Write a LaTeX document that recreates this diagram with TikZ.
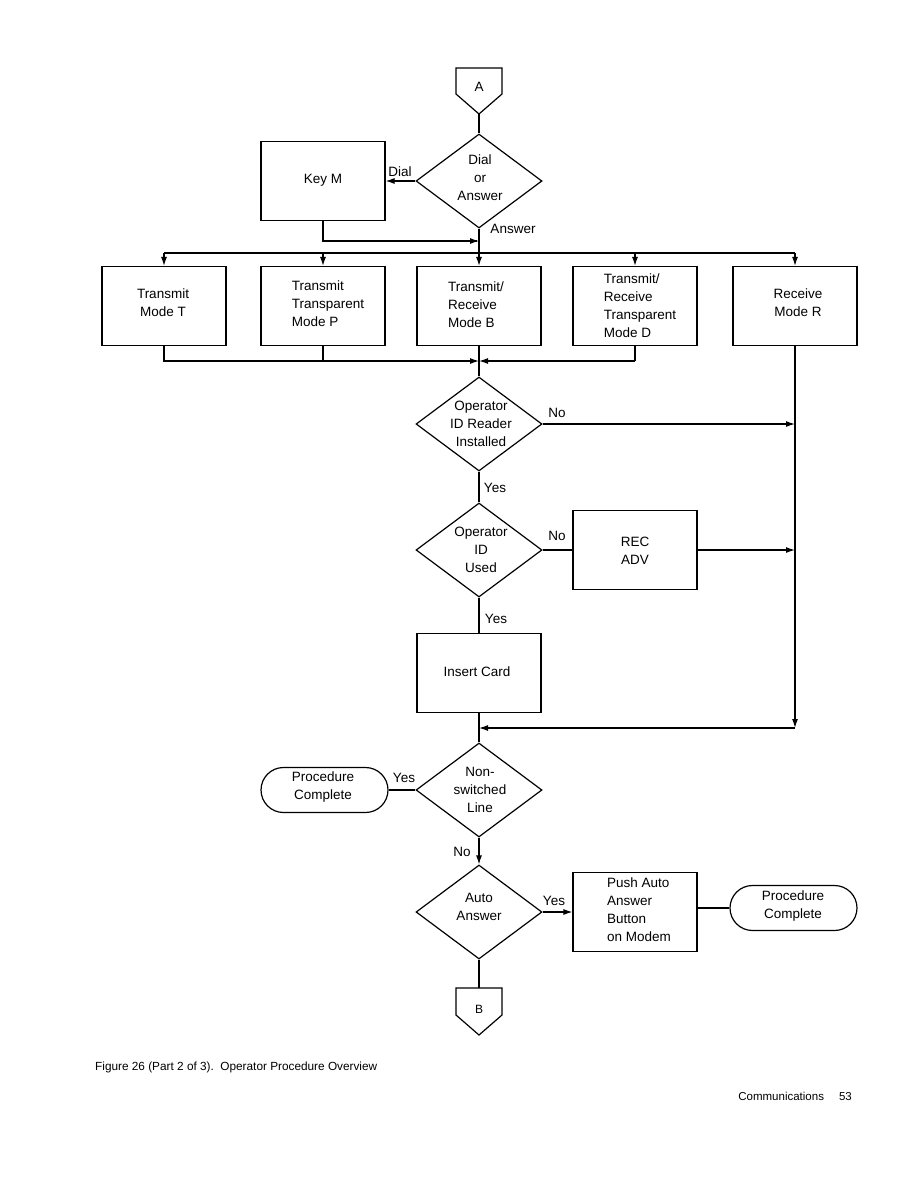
\documentclass[tikz,border=0pt]{standalone}
\usepackage{fontspec}
\setmainfont{Liberation Sans}
\usetikzlibrary{shapes.geometric,shapes.misc,arrows.meta}
\begin{document}
\begin{tikzpicture}[x=1pt,y=-1pt,
  every node/.style={font=\fontsize{13.5}{18}\selectfont},
  line/.style={line width=1.2pt},
  arr/.style={line width=1.2pt,-{Latex[length=9pt,width=6pt]}},
  dia/.style={draw,line width=1.2pt,diamond,minimum width=126pt,minimum height=94pt,inner sep=0pt},
  box/.style={draw,line width=1.2pt,rectangle,minimum width=124pt,minimum height=79pt,inner sep=0pt},
  term/.style={draw,line width=1.2pt,rounded rectangle,minimum width=127pt,minimum height=45pt,inner sep=0pt,align=center},
  txt/.style={align=center,inner sep=0pt},
  ltxt/.style={align=left,inner sep=0pt},
  lab/.style={inner sep=0pt}]
\useasboundingbox (0,0) rectangle (918,1188);
% connector A
\draw[line] (456,68) -- (502,68) -- (502,94) -- (479,114) -- (456,94) -- cycle;
\coordinate (Abot) at (479,114);
\node[lab] (Atxt) at (479,87) {A};
% diamond 1
\node[dia] (d1) at (479,181) {};
\node[txt] (d1t) at (480,178) {Dial\\or\\Answer};
\node[box] (keym) at (323,181) {};
\node[txt] (keymt) at (323,180) {Key M};
\draw[line] (Abot) -- (d1.north);
\draw[arr] (d1.west) -- (keym.east |- d1.west);
\node[lab] (ldial) at (400,172) {Dial};
\coordinate (bus) at (479,253);
\draw[line] (keym.south) -- (323,241) -- (477,241);
\draw[arr] (323,241) -- (479,241);
\node[lab] (lans) at (513,229) {Answer};
% row boxes
\node[box] (bT) at (164,306) {};
\node[txt] (bTt) at (163,303) {Transmit\\Mode T};
\node[box] (bP) at (323,306) {};
\node[ltxt] (bPt) at (328,304) {Transmit\\Transparent\\Mode P};
\node[box] (bB) at (479,306) {};
\node[ltxt] (bBt) at (476,305) {Transmit/\\Receive\\Mode B};
\node[box] (bD) at (635,306) {};
\node[ltxt] (bDt) at (640,306) {Transmit/\\Receive\\Transparent\\Mode D};
\node[box] (bR) at (795,306) {};
\node[txt] (bRt) at (798,303) {Receive\\Mode R};
\draw[line] (d1.south) -- (bus);
\draw[line] (164,253) -- (795,253);
\draw[arr] (164,253) -- (bT.north);
\draw[arr] (323,253) -- (bP.north);
\draw[arr] (bus) -- (bB.north);
\draw[arr] (635,253) -- (bD.north);
\draw[arr] (795,253) -- (bR.north);
% merge
\coordinate (m1) at (479,361);
\draw[line] (bT.south) -- (164,361) -- (475,361);
\draw[arr] (164,361) -- (m1);
\draw[line] (bP.south) -- (323,361);
\draw[line] (bD.south) -- (635,361);
\draw[arr] (635,361) -- (m1);
\draw[line] (bB.south) -- (m1);
% diamond 2
\node[dia] (d2) at (479,424) {};
\node[txt] (d2t) at (481,424) {Operator\\ID Reader\\Installed};
\draw[line] (m1) -- (d2.north);
\coordinate (rl) at (795,424);
\draw[arr] (d2.east) -- (rl);
\node[lab] (lno1) at (557,413) {No};
% diamond 3
\node[dia] (d3) at (479,550) {};
\node[txt] (d3t) at (481,550) {Operator\\ID\\Used};
\draw[line] (d2.south) -- (d3.north);
\node[lab] (lyes1) at (495,488) {Yes};
\node[box] (rec) at (635,550) {};
\node[txt] (rect) at (635,551) {REC\\ADV};
\draw[line] (d3.east) -- (rec.west);
\node[lab] (lno2) at (557,536) {No};
\draw[arr] (rec.east) -- (795,550);
% insert card
\node[box] (ins) at (479,673) {};
\node[txt] (inst) at (477,672) {Insert Card};
\draw[line] (d3.south) -- (ins.north);
\node[lab] (lyes2) at (496,619) {Yes};
% right vertical
\coordinate (rc) at (795,728);
\coordinate (m2) at (479,728);
\draw[arr] (bR.south) -- (rc);
\draw[arr] (rc) -- (m2);
% diamond 4
\node[dia] (d4) at (479,790) {};
\node[txt] (d4t) at (480,790) {Non-\\switched\\Line};
\draw[line] (ins.south) -- (d4.north);
\node[term] (pc1) at (324.5,790) {};
\node[txt] (pc1t) at (323,787) {Procedure\\Complete};
\draw[line] (d4.west) -- (pc1.east);
\node[lab] (lyes3) at (404,778) {Yes};
% diamond 5
\node[dia] (d5) at (479,912) {};
\node[txt] (d5t) at (479,907) {Auto\\Answer};
\draw[arr] (d4.south) -- (d5.north);
\node[lab] (lno3) at (462,852) {No};
\node[box] (push) at (635,912) {};
\node[ltxt] (pusht) at (639,910) {Push Auto\\Answer\\Button\\on Modem};
\draw[arr] (d5.east) -- (push.west);
\node[lab] (lyes4) at (554,901) {Yes};
\node[term] (pc2) at (793.5,908) {};
\node[txt] (pc2t) at (793,906) {Procedure\\Complete};
\draw[line] (push.east |- pc2.west) -- (pc2.west);
% connector B
\draw[line] (456,988) -- (502,988) -- (502,1015) -- (479,1035) -- (456,1015) -- cycle;
\coordinate (Btop) at (479,988);
\node[lab] (Btxt) at (479,1009) {\fontsize{12}{14}\selectfont B};
\draw[line] (d5.south) -- (Btop);
% caption
\node[anchor=west,inner sep=0pt,font=\fontsize{11.8}{14}\selectfont] (cap) at (95,1067) {Figure 26 (Part 2 of 3).\ \ Operator Procedure Overview};
\node[anchor=east,inner sep=0pt,font=\fontsize{11.5}{14}\selectfont] (foot) at (852,1096) {Communications\hspace{15pt}53};
\end{tikzpicture}
\end{document}
